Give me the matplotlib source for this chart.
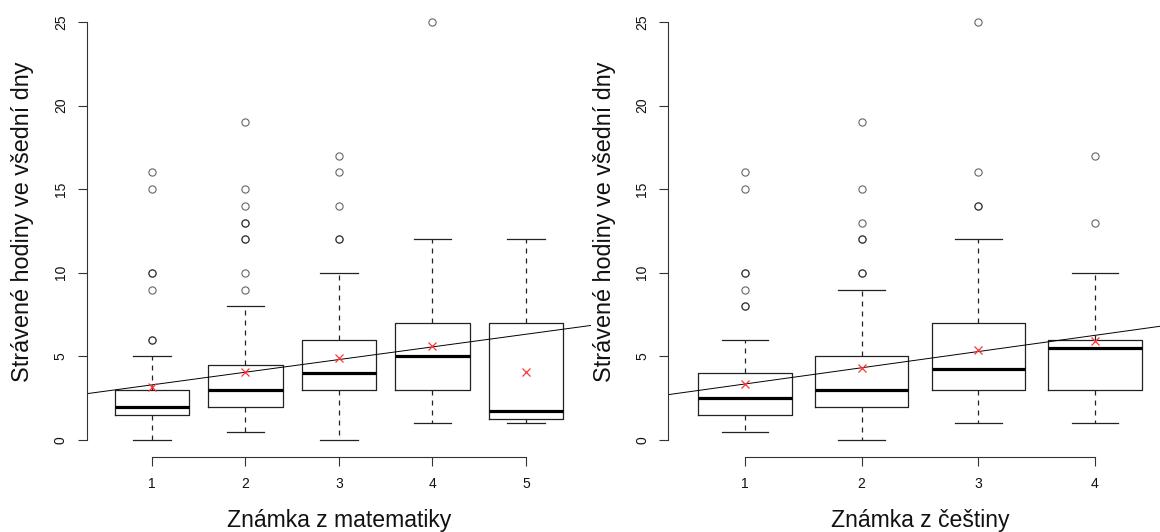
import matplotlib.pyplot as plt

plt.rcParams['font.family'] = ['Liberation Sans', 'DejaVu Sans']

# weekday hours by maths grade
math_grades = [1, 2, 3, 4, 5]
math_whislo = [0, 0.5, 0, 1, 1]
math_q1 = [1.5, 2, 3, 3, 1.25]
math_med = [2, 3, 4, 5, 1.75]
math_q3 = [3, 4.5, 6, 7, 7]
math_whishi = [5, 8, 10, 12, 12]
math_mean = [3.15, 4.09, 4.89, 5.62, 4.09]
math_fliers = [
    [6, 6, 9, 10, 10, 15, 16],
    [9, 10, 12, 12, 13, 13, 14, 15, 19],
    [12, 12, 14, 16, 17],
    [25],
    [],
]
math_fit = (2.54, 0.757)  # intercept, slope

# weekday hours by Czech grade
czech_grades = [1, 2, 3, 4]
czech_whislo = [0.5, 0, 1, 1]
czech_q1 = [1.5, 2, 3, 3]
czech_med = [2.5, 3, 4.25, 5.5]
czech_q3 = [4, 5, 7, 6]
czech_whishi = [6, 9, 12, 10]
czech_mean = [3.35, 4.29, 5.38, 5.92]
czech_fliers = [
    [8, 8, 9, 10, 10, 15, 16],
    [10, 10, 12, 12, 13, 15, 19],
    [14, 14, 16, 25],
    [13, 17],
]
czech_fit = (2.38, 0.97)

ylab = "Strávené hodiny ve všední dny"


def panel(ax, grades, lo, q1, med, q3, hi, mean, fliers, fit, xlab):
    stats = []
    for i in range(len(grades)):
        stats.append(dict(whislo=lo[i], q1=q1[i], med=med[i], q3=q3[i],
                          whishi=hi[i], mean=mean[i], fliers=fliers[i]))
    ax.bxp(stats, positions=grades, widths=0.8, capwidths=0.4,
           showmeans=True, manage_ticks=False,
           boxprops=dict(color='#222222', lw=0.9),
           medianprops=dict(color='black', lw=2.3, solid_capstyle='butt'),
           whiskerprops=dict(color='#222222', lw=0.9, linestyle=(0, (4, 4))),
           capprops=dict(color='#222222', lw=0.9),
           flierprops=dict(marker='o', markersize=5.2, markerfacecolor='none',
                           markeredgecolor='black', markeredgewidth=0.8,
                           alpha=0.6),
           meanprops=dict(marker='x', markersize=6, markeredgecolor='#ff3333',
                          markeredgewidth=0.9))
    ax.axline((0, fit[0]), slope=fit[1], color='black', lw=0.7)

    ax.set_xlim(grades[0] - 0.5 - 0.04 * len(grades),
                grades[-1] + 0.5 + 0.04 * len(grades))
    ax.set_ylim(-1, 26)
    for s in ('top', 'right'):
        ax.spines[s].set_visible(False)
    ax.spines['left'].set_bounds(0, 25)
    ax.spines['bottom'].set_bounds(grades[0], grades[-1])
    for s in ('left', 'bottom'):
        ax.spines[s].set_color('#333333')
        ax.spines[s].set_linewidth(0.8)
    ax.set_xticks(grades)
    ax.set_yticks([0, 5, 10, 15, 20, 25])
    ax.tick_params(axis='both', direction='out', length=6.5, width=0.8,
                   color='#333333', labelsize=10, labelcolor='#111111')
    ax.tick_params(axis='y', pad=7, labelrotation=90)
    ax.tick_params(axis='x', pad=8)
    for t in ax.get_yticklabels():
        t.set_va('center')
    ax.patch.set_visible(False)

    # axis titles placed by pixel position
    ax.text(0.5, -64 / 451.4, xlab, transform=ax.transAxes,
            ha='center', va='center', fontsize=16.6, color='#111111')
    ax.text(-64 / 504.9, 0.52, ylab, transform=ax.transAxes,
            ha='center', va='center', rotation=90, fontsize=16.8,
            color='#111111')


fig = plt.figure(figsize=(11.6, 5.32), dpi=100)
ax1 = fig.add_axes([0.07461, 0.14154, 0.43526, 0.8485])
ax2 = fig.add_axes([0.57586, 0.14154, 0.43448, 0.8485])

panel(ax1, math_grades, math_whislo, math_q1, math_med, math_q3, math_whishi,
      math_mean, math_fliers, math_fit, "Známka z matematiky")
panel(ax2, czech_grades, czech_whislo, czech_q1, czech_med, czech_q3,
      czech_whishi, czech_mean, czech_fliers, czech_fit, "Známka z češtiny")

fig.savefig("out.png", dpi=100)
